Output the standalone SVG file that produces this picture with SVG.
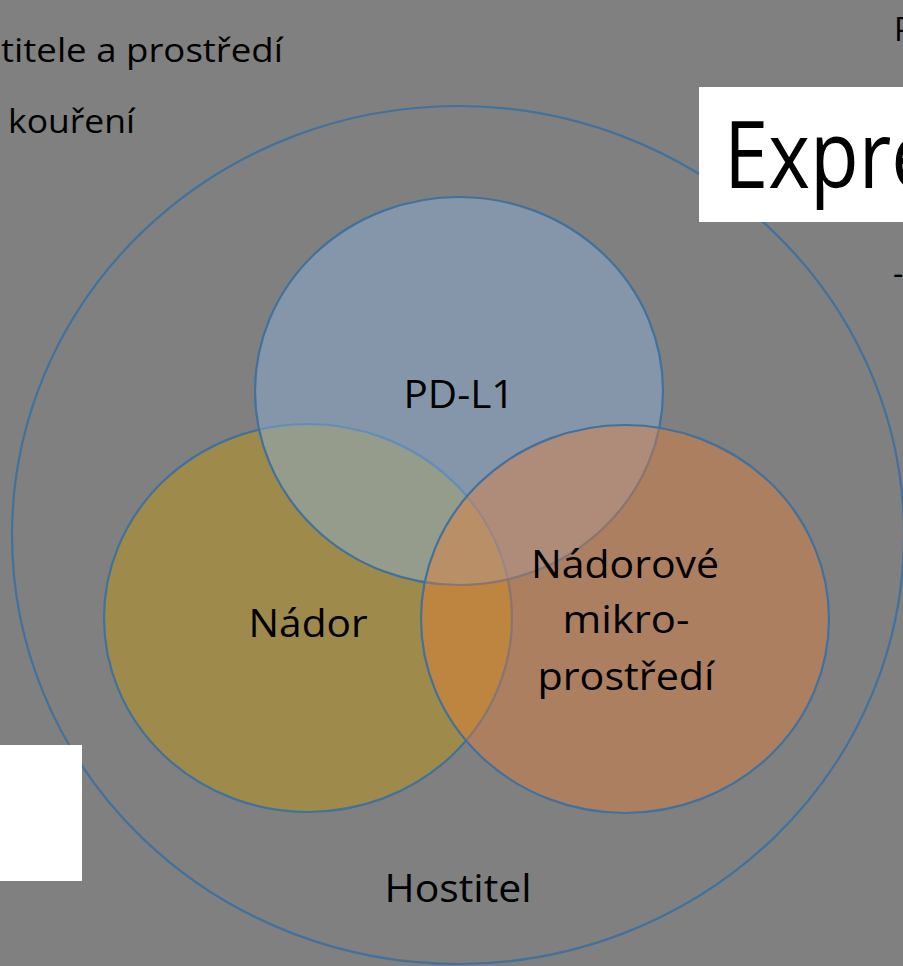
<svg xmlns="http://www.w3.org/2000/svg" width="903" height="966" viewBox="0 0 903 966">
<style>
text{font-family:"Open Sans","Liberation Sans",sans-serif;fill:#000}
.t{font-size:32px}
.l{font-size:38px;text-anchor:middle}
.ring{stroke:#41719c;stroke-width:2.2}
</style>
<rect x="0" y="0" width="903" height="966" fill="#808080"/>
<g id="bg-texts">
<text class="t" x="1" y="62" textLength="282" lengthAdjust="spacingAndGlyphs">titele a prostředí</text>
<text class="t" x="8" y="133" textLength="127" lengthAdjust="spacingAndGlyphs">kouření</text>
<text class="t" x="894" y="41">P</text>
<text class="t" x="893" y="285">-</text>
</g>
<g id="host">
<ellipse class="ring" cx="458" cy="535" rx="446" ry="429" fill="none"/>
<text class="l" x="458" y="902" textLength="147" lengthAdjust="spacingAndGlyphs">Hostitel</text>
</g>
<g id="title-box">
<rect x="699" y="87" width="210" height="135" fill="#ffffff"/>
<text x="724" y="188" textLength="212" lengthAdjust="spacingAndGlyphs" style="font-size:94px">Expre</text>
</g>
<rect id="left-box" x="0" y="745" width="82" height="136" fill="#ffffff"/>
<g id="nador">
<ellipse class="ring" cx="308" cy="618" rx="204" ry="194" fill="#9e8a4a"/>
</g>
<g id="pdl1">
<ellipse class="ring" cx="459" cy="391" rx="204" ry="194" fill="#8cb4e4" fill-opacity="0.42"/>
</g>
<g id="mikro">
<ellipse class="ring" cx="625" cy="619" rx="204" ry="194" fill="#ed7d31" fill-opacity="0.4"/>
</g>
<g id="labels">
<text class="l" x="459" y="408" textLength="111" lengthAdjust="spacingAndGlyphs">PD-L1</text>
<text class="l" x="308" y="637" textLength="119" lengthAdjust="spacingAndGlyphs">Nádor</text>
<text class="l" x="625" y="578" textLength="188" lengthAdjust="spacingAndGlyphs">Nádorové</text>
<text class="l" x="626" y="633" textLength="127" lengthAdjust="spacingAndGlyphs">mikro-</text>
<text class="l" x="626" y="690" textLength="177" lengthAdjust="spacingAndGlyphs">prostředí</text>
</g>
</svg>
